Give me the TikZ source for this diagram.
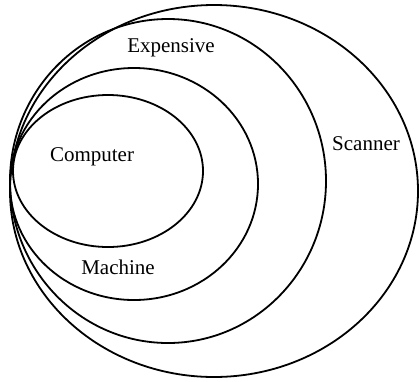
\documentclass[tikz,border=0pt]{standalone}
\usepackage{fontspec}
\setmainfont{Liberation Serif}
\tikzset{
  set/.style={line width=1.8pt},
  lbl/.style={font=\fontsize{21}{25}\selectfont,inner sep=0pt},
}
\begin{document}
\begin{tikzpicture}[x=1pt,y=-1pt]
\useasboundingbox (0,0) rectangle (419,381);
\draw[set] (214,191) ellipse [x radius=204, y radius=186];
\draw[set] (168,181) ellipse [x radius=158, y radius=162];
\draw[set] (134,184) ellipse [x radius=124, y radius=116];
\draw[set] (108,171) ellipse [x radius=95, y radius=76];
\node[lbl] (computer) at (92,157) {Computer};
\node[lbl] (machine) at (118,267) {Machine};
\node[lbl] (expensive) at (171,48) {Expensive};
\node[lbl] (scanner) at (366,144) {Scanner};
\end{tikzpicture}
\end{document}
